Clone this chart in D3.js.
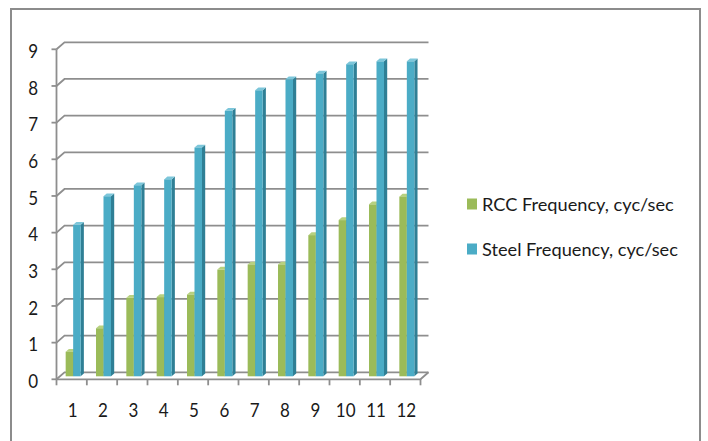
<!DOCTYPE html>
<html>
<head>
<meta charset="utf-8">
<script src="https://cdn.jsdelivr.net/npm/d3@7"></script>
<style>
  html, body { margin: 0; padding: 0; background: #fff; }
  svg { display: block; }
  text { font-family: Lato, "Open Sans", sans-serif; fill: #1a1a1a; }
</style>
</head>
<body>
<svg id="chart" width="708" height="441"></svg>
<script>
// Natural frequencies per storey count
const categories = ["1","2","3","4","5","6","7","8","9","10","11","12"];
const rccFrequency   = [0.67, 1.31, 2.14, 2.16, 2.23, 2.91, 3.05, 3.05, 3.85, 4.26, 4.69, 4.90];
const steelFrequency = [4.13, 4.91, 5.21, 5.37, 6.24, 7.24, 7.80, 8.10, 8.26, 8.51, 8.59, 8.59];
const seriesNames = ["RCC Frequency, cyc/sec", "Steel Frequency, cyc/sec"];
const yTicks = [0, 1, 2, 3, 4, 5, 6, 7, 8, 9];

const palette = [
  { front: "#9bbb59", top: "#b7d17f", side: "#74913a" },
  { front: "#4bacc6", top: "#7cc6da", side: "#2f7f95" }
];

const svg = d3.select("#chart");

// Outer chart frame
svg.append("rect")
  .attr("x", 11).attr("y", 9).attr("width", 689).attr("height", 440)
  .attr("fill", "none").attr("stroke", "#8c8c8c").attr("stroke-width", 2);

// Front plane scales; the back wall is offset by a fixed depth vector
const x0 = d3.scaleBand().domain(categories).range([56.5, 420.5]);
const y  = d3.scaleLinear().domain([0, 9]).range([379.3, 49.3]);
const depth = { dx: 8, dy: -7 };
const barDepth = { dx: 3.2, dy: -2.8 };
const grid = "#8e8e8e";

const g = svg.append("g");

// Left side wall lines and back wall gridlines
yTicks.forEach(v => {
  const yf = y(v);
  g.append("path")
    .attr("d", `M${x0.range()[0]},${yf} L${x0.range()[0] + depth.dx},${yf + depth.dy} L${x0.range()[1] + depth.dx},${yf + depth.dy}`)
    .attr("fill", "none").attr("stroke", grid).attr("stroke-width", 1.8);
  // tick
  g.append("line")
    .attr("x1", x0.range()[0] - 5).attr("x2", x0.range()[0])
    .attr("y1", yf).attr("y2", yf)
    .attr("stroke", grid).attr("stroke-width", 1.8);
});

// Vertical axis (front edge of side wall)
g.append("line")
  .attr("x1", x0.range()[0]).attr("x2", x0.range()[0])
  .attr("y1", y(9)).attr("y2", y(0))
  .attr("stroke", grid).attr("stroke-width", 1.8);

// Floor front edge, right edge and category ticks
g.append("path")
  .attr("d", `M${x0.range()[0]},${y(0)} L${x0.range()[1]},${y(0)} L${x0.range()[1] + depth.dx},${y(0) + depth.dy}`)
  .attr("fill", "none").attr("stroke", grid).attr("stroke-width", 1.8);

const boundaries = categories.map(c => x0(c)).concat([x0.range()[1]]);
boundaries.forEach(bx => {
  g.append("line")
    .attr("x1", bx).attr("x2", bx)
    .attr("y1", y(0)).attr("y2", y(0) + 6)
    .attr("stroke", grid).attr("stroke-width", 1.8);
});

// Bars, placed at mid-depth of the floor
const midShift = { dx: depth.dx / 2 - 0.5, dy: depth.dy / 2 + 0.5 };
const x1 = d3.scaleBand().domain([0, 1]).range([0, 15]);
const groupOffset = (x0.bandwidth() - 15) / 2 + midShift.dx - 2;
const series = [rccFrequency, steelFrequency];

const bars = svg.append("g");
categories.forEach((c, i) => {
  series.forEach((vals, s) => {
    const v = vals[i];
    const xl = x0(c) + groupOffset + x1(s);
    const w = x1.bandwidth();
    const base = y(0) + midShift.dy;
    const top = y(v) + midShift.dy;
    const col = palette[s];
    const b = bars.append("g");
    // side face
    b.append("path")
      .attr("d", `M${xl + w},${top} L${xl + w + barDepth.dx},${top + barDepth.dy} L${xl + w + barDepth.dx},${base + barDepth.dy} L${xl + w},${base} Z`)
      .attr("fill", col.side);
    // top face
    b.append("path")
      .attr("d", `M${xl},${top} L${xl + w},${top} L${xl + w + barDepth.dx},${top + barDepth.dy} L${xl + barDepth.dx},${top + barDepth.dy} Z`)
      .attr("fill", col.top);
    // front face
    b.append("rect")
      .attr("x", xl).attr("y", top)
      .attr("width", w).attr("height", base - top)
      .attr("fill", col.front);
  });
});

// Axis labels (condensed, Calibri-like proportions)
const labels = svg.append("g");
yTicks.forEach(v => {
  labels.append("text")
    .attr("transform", `translate(38,${y(v) + 1.5}) scale(0.85,1)`)
    .attr("text-anchor", "end").attr("dy", "0.36em")
    .attr("font-size", 20)
    .text(v);
});
categories.forEach(c => {
  labels.append("text")
    .attr("transform", `translate(${x0(c) + x0.bandwidth() / 2 + 1},417) scale(0.85,1)`)
    .attr("text-anchor", "middle")
    .attr("font-size", 20)
    .text(c);
});

// Legend
const legend = svg.append("g");
const legendY = [198.5, 243.5];
seriesNames.forEach((name, s) => {
  legend.append("rect")
    .attr("x", 467).attr("y", legendY[s])
    .attr("width", 10).attr("height", 11)
    .attr("fill", palette[s].front);
  legend.append("text")
    .attr("transform", `translate(482,${legendY[s] + 12.8}) scale(1.04,1)`)
    .attr("font-size", 17.5)
    .text(name);
});
</script>
</body>
</html>
